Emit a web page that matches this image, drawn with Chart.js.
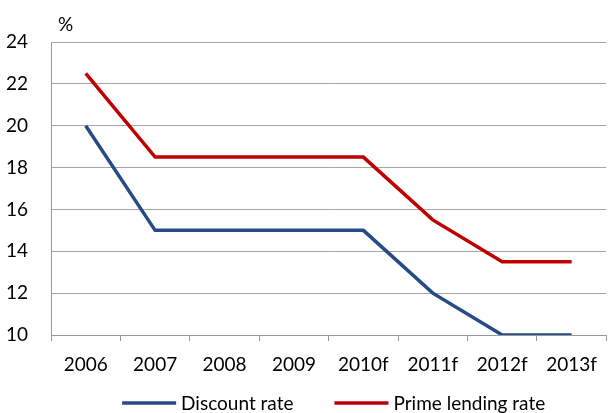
<!DOCTYPE html>
<html>
<head>
<meta charset="utf-8">
<script src="https://cdn.jsdelivr.net/npm/chart.js@4/dist/chart.umd.min.js"></script>
<style>
  html, body { margin: 0; padding: 0; background: #fff; }
  #wrap { width: 609px; height: 413px; }
</style>
</head>
<body>
<div id="wrap"><canvas id="c" width="609" height="413"></canvas></div>
<script>
// Interest rate outlook, percent
const categories = ['2006', '2007', '2008', '2009', '2010f', '2011f', '2012f', '2013f'];
const discountRate = [20, 15, 15, 15, 15, 12, 10, 10];
const primeLendingRate = [22.5, 18.5, 18.5, 18.5, 18.5, 15.5, 13.5, 13.5];
const yTicks = [10, 12, 14, 16, 18, 20, 22, 24];

const FONT = 'Lato, "Open Sans", sans-serif';
const FONT_SIZE = 19;

// Unit label drawn above the top of the value axis
const unitLabel = {
  id: 'unitLabel',
  afterDraw(chart) {
    const ctx = chart.ctx;
    const area = chart.chartArea;
    ctx.save();
    ctx.fillStyle = '#000';
    ctx.font = FONT_SIZE + 'px ' + FONT;
    ctx.textAlign = 'left';
    ctx.textBaseline = 'alphabetic';
    ctx.fillText('%', area.left + 7, area.top - 11);
    ctx.restore();
  }
};

// Single-row legend below the axis: a line swatch followed by the series name
const lineLegend = {
  id: 'lineLegend',
  afterDraw(chart) {
    const ctx = chart.ctx;
    const swatch = 54, gapText = 5, gapItem = 41;
    const baseline = chart.height - 3;
    const lineY = chart.height - 10;
    ctx.save();
    ctx.font = FONT_SIZE + 'px ' + FONT;
    const items = chart.data.datasets.map(ds => ({
      text: ds.label,
      color: ds.borderColor,
      w: ctx.measureText(ds.label).width
    }));
    const total = items.reduce((s, it) => s + swatch + gapText + it.w, 0) + gapItem * (items.length - 1);
    const center = (chart.chartArea.left + chart.chartArea.right) / 2 + 5;
    let x = center - total / 2;
    ctx.textBaseline = 'alphabetic';
    ctx.textAlign = 'left';
    items.forEach(it => {
      ctx.strokeStyle = it.color;
      ctx.lineWidth = 3.5;
      ctx.beginPath();
      ctx.moveTo(x, lineY);
      ctx.lineTo(x + swatch, lineY);
      ctx.stroke();
      x += swatch + gapText;
      ctx.fillStyle = '#000';
      ctx.fillText(it.text, x, baseline);
      x += it.w + gapItem;
    });
    ctx.restore();
  }
};

new Chart(document.getElementById('c'), {
  type: 'line',
  data: {
    labels: categories,
    datasets: [
      {
        label: 'Discount rate',
        data: discountRate,
        borderColor: '#254C87',
        backgroundColor: '#254C87',
        borderWidth: 3.5,
        pointRadius: 0,
        tension: 0
      },
      {
        label: 'Prime lending rate',
        data: primeLendingRate,
        borderColor: '#C00000',
        backgroundColor: '#C00000',
        borderWidth: 3.5,
        pointRadius: 0,
        tension: 0
      }
    ]
  },
  options: {
    responsive: false,
    animation: false,
    layout: { padding: { top: 42, left: 6, right: 0, bottom: 37 } },
    plugins: {
      legend: { display: false },
      tooltip: { enabled: false }
    },
    scales: {
      x: {
        offset: true,
        afterFit(scale) { scale.height = 41; },
        grid: {
          offset: true,
          drawOnChartArea: false,
          drawTicks: true,
          tickLength: 6,
          color: '#999'
        },
        border: { color: '#999', width: 1 },
        ticks: {
          color: '#000',
          font: { family: FONT, size: FONT_SIZE },
          padding: 12,
          maxRotation: 0
        }
      },
      y: {
        min: 10,
        max: 24,
        afterBuildTicks(scale) {
          scale.ticks = yTicks.map(v => ({ value: v }));
        },
        afterFit(scale) { scale.width = 45; },
        grid: {
          color: '#a6a6a6',
          drawTicks: false,
          lineWidth: 1
        },
        border: { color: '#999', width: 1 },
        ticks: {
          color: '#000',
          font: { family: FONT, size: FONT_SIZE },
          padding: 23
        }
      }
    }
  },
  plugins: [unitLabel, lineLegend]
});
</script>
</body>
</html>
